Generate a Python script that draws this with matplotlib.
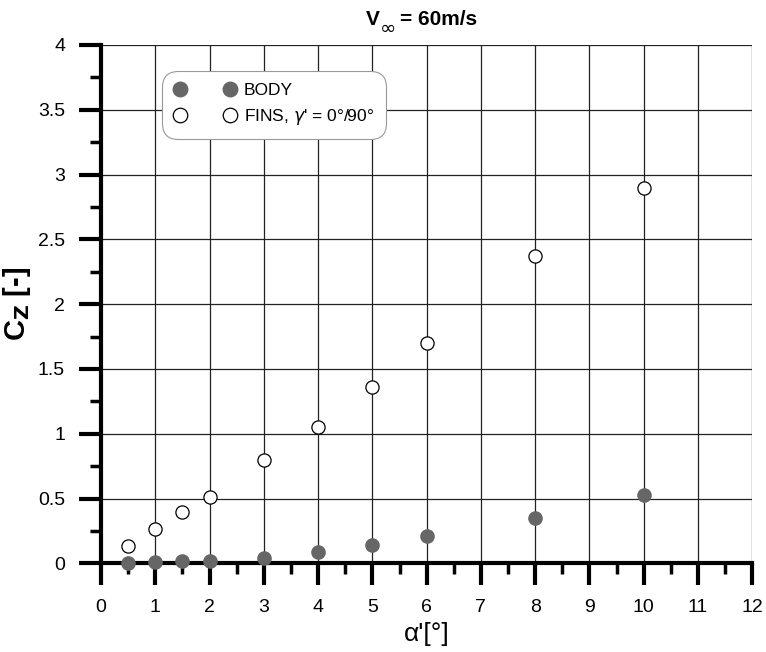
import matplotlib
matplotlib.use("Agg")
import matplotlib.pyplot as plt
from matplotlib.ticker import MultipleLocator

alpha = [0.5, 1, 1.5, 2, 3, 4, 5, 6, 8, 10]
body = [0.005, 0.01, 0.015, 0.02, 0.042, 0.085, 0.14, 0.21, 0.35, 0.525]
fins = [0.135, 0.265, 0.395, 0.515, 0.795, 1.055, 1.36, 1.70, 2.375, 2.895]

plt.rcParams['font.family'] = ['Liberation Sans', 'DejaVu Sans']

fig = plt.figure(figsize=(7.66, 6.52), dpi=100)
ax = fig.add_axes([0.132, 0.136, 0.850, 0.795])

ax.set_xlim(0, 12)
ax.set_ylim(0, 4)
ax.xaxis.set_major_locator(MultipleLocator(1))
ax.xaxis.set_minor_locator(MultipleLocator(0.5))
ax.yaxis.set_minor_locator(MultipleLocator(0.25))
ax.set_yticks([0, 0.5, 1, 1.5, 2, 2.5, 3, 3.5, 4])
ax.set_yticklabels(['0', '0.5', '1', '1.5', '2', '2.5', '3', '3.5', '4'])
ax.grid(True, which='major', color='#222222', linewidth=0.9)
ax.set_axisbelow(True)

for s in ['top', 'right']:
    ax.spines[s].set_visible(False)
for s in ['left', 'bottom']:
    ax.spines[s].set_linewidth(3)

ax.tick_params(which='major', direction='out', length=16, width=3, labelsize=14, pad=10)
ax.tick_params(which='minor', direction='out', length=8, width=2.5)

ax.plot(alpha, body, linestyle='none', marker='o', markersize=9.5, color='#666666',
        markeredgecolor='#666666', label='BODY', clip_on=False, zorder=5)
ax.plot(alpha, fins, linestyle='none', marker='o', markersize=9.5, markerfacecolor='white',
        markeredgecolor='black', markeredgewidth=0.9, label="FINS, $\\gamma$' = 0°/90°", zorder=5)

leg = ax.legend(loc='upper left', bbox_to_anchor=(0.094, 0.950), numpoints=2, fontsize=12.5,
                frameon=True, fancybox=True, edgecolor='#999999', framealpha=1,
                handlelength=3.5, handletextpad=0.5, borderpad=0.7, labelspacing=0.5,
                markerscale=1.1, borderaxespad=0)
leg.get_frame().set_boxstyle('round', pad=0.0, rounding_size=0.9)
leg.get_frame().set_linewidth(0.8)

ax.set_xlabel("α'[°]", fontsize=19, labelpad=4)
ax.set_ylabel("C$_\\mathbf{Z}$ [-]", fontsize=21, fontweight='bold')
ax.yaxis.set_label_coords(-0.104, 0.5)

# Title: V with a larger subscript infinity
t1 = fig.text(0.478, 0.961, "V", fontsize=15, fontweight='bold', ha='left', va='baseline')
ax.annotate("\u221e", xy=(1, 0), xycoords=t1, xytext=(0, -3), textcoords='offset points',
            fontsize=14, family=['DejaVu Sans'], ha='left', va='baseline',
            annotation_clip=False)
ax.annotate("= 60m/s", xy=(1, 0), xycoords=t1, xytext=(14.5, 0), textcoords='offset points',
            fontsize=15, fontweight='bold', ha='left', va='bottom', annotation_clip=False)

fig.savefig('out.png', dpi=100)
